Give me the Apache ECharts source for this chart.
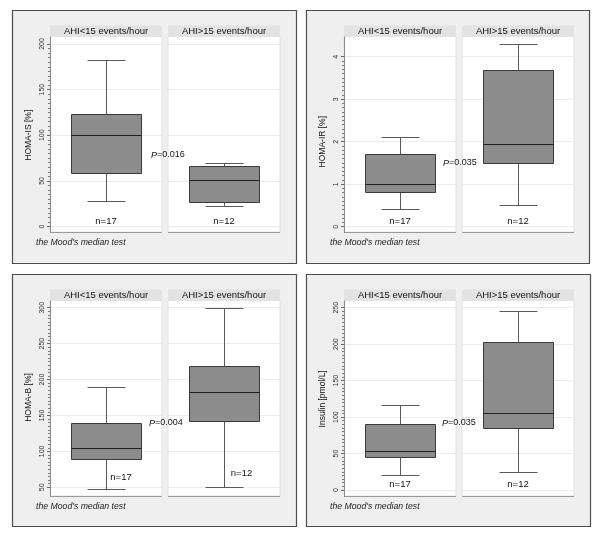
<!DOCTYPE html>
<html><head><meta charset="utf-8">
<script src="https://cdn.jsdelivr.net/npm/echarts@6/dist/echarts.min.js"></script>
<style>html,body{margin:0;padding:0;background:#fff}#c{width:600px;height:535px}</style>
</head><body><div id="c"></div>
<script>
// ---------- data ----------
const categories = ['AHI<15 events/hour', 'AHI>15 events/hour'];
const groupCounts = ['n=17', 'n=12'];
// each box: [min, Q1, median, Q3, max]
const homaIS  = [[28, 59, 100, 123, 182], [23, 27, 51, 66, 70]];
const homaIR  = [[0.41, 0.81, 1.00, 1.70, 2.11], [0.50, 1.51, 1.95, 3.69, 4.30]];
const homaB   = [[47, 90, 105, 139, 189], [50, 142, 182, 219, 300]];
const insulin = [[20, 45, 53, 90, 117], [25, 85, 106, 203, 245]];
const yNames  = ['HOMA-IS [%]', 'HOMA-IR [%]', 'HOMA-B [%]', 'Insulin [pmol/L]'];
const yMin    = [0, 0, 50, 0];
const yMax    = [200, 4, 300, 250];
const yStep   = [50, 1, 50, 50];
const pValues = ['0.016', '0.035', '0.004', '0.035'];
const footnote = "the Mood's median test";
const seriesData = [homaIS, homaIR, homaB, insulin];

// ---------- layout ----------
const panels = [
  {ox: 12,  oy: 10,  w: 284, h: 253, tTop: 34,   tBot: 216.5, nOff: [[0, 211], [0, 211]],     p: [139, 145]},
  {ox: 306, oy: 10,  w: 283, h: 253, tTop: 46.7, tBot: 216.7, nOff: [[0, 211], [0, 211]],     p: [137, 153]},
  {ox: 12,  oy: 274, w: 284, h: 252, tTop: 33.7, tBot: 213.3, nOff: [[15, 203], [17.5, 199]], p: [137, 149]},
  {ox: 306, oy: 274, w: 284, h: 252, tTop: 33.7, tBot: 216,   nOff: [[0, 210], [0, 210]],     p: [136, 149]}
];
const FX = 38, FW = 112, FGAP = 6, STRIP_T = 15.5, F_T = 26.5, F_B = 222;
const FONT = '"Liberation Sans", Arial, Helvetica, sans-serif';

function renderBox(params, api) {
  const c = api.value(0);
  const py = i => Math.round(api.coord([c, api.value(i)])[1]) + 0.5;
  const cx = Math.round(api.coord([c, api.value(3)])[0]) + 0.5;
  const band = api.size([1, 0])[0];
  const hb = Math.round(band * 0.3125), hc = Math.round(band * 0.17);
  const yLo = py(1), yQ1 = py(2), yMed = py(3), yQ3 = py(4), yHi = py(5);
  const ws = {stroke: '#5a5a5a', lineWidth: 1};
  return {type: 'group', children: [
    {type: 'line', shape: {x1: cx, y1: yHi, x2: cx, y2: yQ3}, style: ws},
    {type: 'line', shape: {x1: cx, y1: yQ1, x2: cx, y2: yLo}, style: ws},
    {type: 'line', shape: {x1: cx - hc, y1: yHi, x2: cx + hc, y2: yHi}, style: ws},
    {type: 'line', shape: {x1: cx - hc, y1: yLo, x2: cx + hc, y2: yLo}, style: ws},
    {type: 'rect', shape: {x: cx - hb, y: yQ3, width: 2 * hb, height: yQ1 - yQ3},
      style: {fill: '#8c8c8c', stroke: '#3a3a3a', lineWidth: 1}},
    {type: 'line', shape: {x1: cx - hb, y1: yMed, x2: cx + hb, y2: yMed}, style: {stroke: '#222', lineWidth: 1.2}}
  ]};
}

const grids = [], xAxes = [], yAxes = [], series = [], graphics = [];
panels.forEach((P, i) => {
  graphics.push({type: 'rect', z: -20, silent: true,
    shape: {x: P.ox + 0.5, y: P.oy + 0.5, width: P.w, height: P.h},
    style: {fill: '#efefef', stroke: '#4d4d4d', lineWidth: 1.2}});
  graphics.push({type: 'text', z: 20, silent: true,
    style: {text: footnote, x: P.ox + 24, y: P.oy + 233, align: 'left', verticalAlign: 'middle',
      fontFamily: FONT, fontSize: 8.7, fontStyle: 'italic', fill: '#222'}});
  graphics.push({type: 'text', z: 20, silent: true,
    style: {text: '{i|P}=' + pValues[i], x: P.ox + P.p[0], y: P.oy + P.p[1], align: 'left', verticalAlign: 'middle',
      fontFamily: FONT, fontSize: 9, fill: '#111',
      rich: {i: {fontStyle: 'italic', fontFamily: FONT, fontSize: 9, fill: '#111'}}}});
  for (let j = 0; j < 2; j++) {
    const k = i * 2 + j;
    const fx = P.ox + FX + j * (FW + FGAP);
    graphics.push({type: 'rect', z: -19, silent: true,
      shape: {x: fx, y: P.oy + F_T, width: FW, height: F_B - F_T},
      style: {fill: '#ffffff', stroke: '#e2e2e2', lineWidth: 1}});
    graphics.push({type: 'rect', z: -19, silent: true,
      shape: {x: fx, y: P.oy + STRIP_T, width: FW, height: F_T - STRIP_T},
      style: {fill: '#e3e3e3'}});
    graphics.push({type: 'text', z: 20, silent: true,
      style: {text: categories[j], x: fx + FW / 2, y: P.oy + (STRIP_T + F_T) / 2 + 0.5, align: 'center', verticalAlign: 'middle',
        fontFamily: FONT, fontSize: 9.5, fill: '#111'}});
    graphics.push({type: 'line', z: -18, silent: true,
      shape: {x1: fx, y1: P.oy + F_B + 0.5, x2: fx + FW, y2: P.oy + F_B + 0.5},
      style: {stroke: '#9a9a9a', lineWidth: 1}});
    if (j === 0) {
      graphics.push({type: 'line', z: 5, silent: true,
        shape: {x1: fx + 0.5, y1: P.oy + F_T, x2: fx + 0.5, y2: P.oy + F_B + 1},
        style: {stroke: '#8a8a8a', lineWidth: 1}});
    }
    graphics.push({type: 'text', z: 20, silent: true,
      style: {text: groupCounts[j], x: fx + FW / 2 + P.nOff[j][0], y: P.oy + P.nOff[j][1], align: 'center', verticalAlign: 'middle',
        fontFamily: FONT, fontSize: 9.5, fill: '#111'}});

    grids.push({left: fx, width: FW, top: P.oy + P.tTop, height: P.tBot - P.tTop,
      containLabel: false, outerBoundsMode: 'none'});
    xAxes.push({type: 'category', gridIndex: k, data: [categories[j]], show: false});
    yAxes.push({
      type: 'value', gridIndex: k, min: yMin[i], max: yMax[i], interval: yStep[i],
      name: j === 0 ? yNames[i] : '', nameLocation: 'middle', nameGap: 17, nameRotate: 90,
      nameTextStyle: {fontFamily: FONT, fontSize: 8.5, color: '#111'},
      axisLine: {show: false},
      axisTick: {show: j === 0, length: 3, lineStyle: {color: '#666', width: 1}},
      minorTick: {show: j === 0, splitNumber: 10, length: 2, lineStyle: {color: '#7a7a7a', width: 1}},
      axisLabel: {show: j === 0, rotate: 90, margin: 4, fontFamily: FONT, fontSize: 7, color: '#333'},
      splitLine: {show: true, lineStyle: {color: '#ececec', width: 1}}
    });
    series.push({
      type: 'custom', xAxisIndex: k, yAxisIndex: k, clip: false,
      encode: {x: 0, y: [1, 2, 3, 4, 5]},
      data: [[0].concat(seriesData[i][j])],
      renderItem: renderBox
    });
  }
});

const chart = echarts.init(document.getElementById('c'), null, {renderer: 'canvas'});
chart.setOption({
  backgroundColor: '#ffffff',
  animation: false,
  grid: grids, xAxis: xAxes, yAxis: yAxes, series: series,
  graphic: {elements: graphics}
});
</script>
</body></html>
